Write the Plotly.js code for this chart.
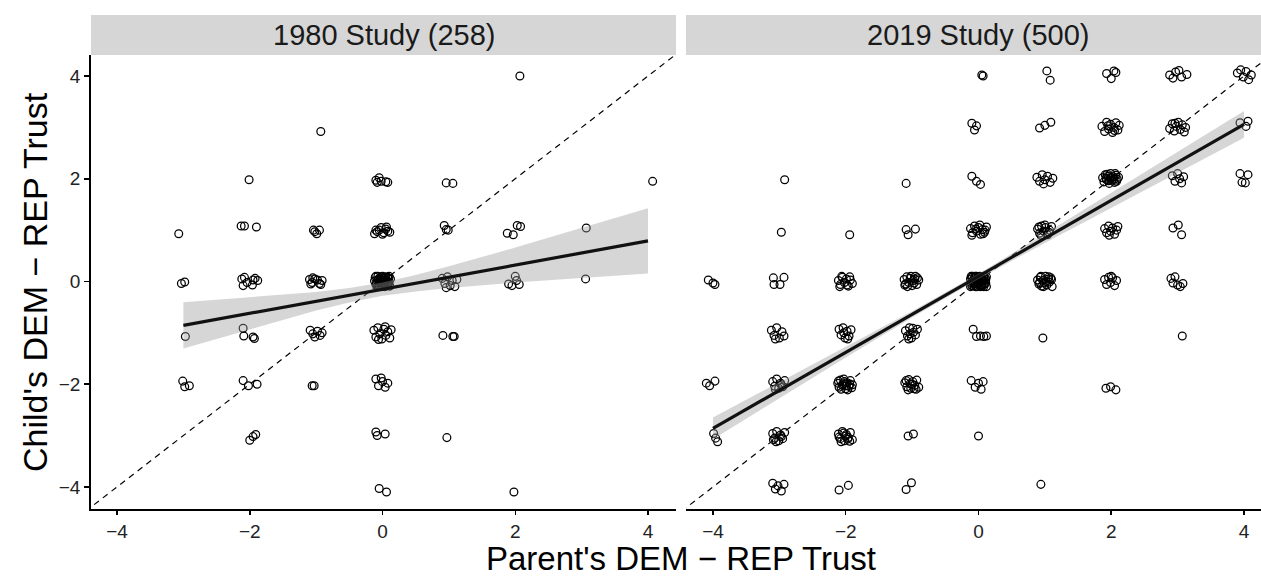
<!DOCTYPE html>
<html>
<head>
<meta charset="utf-8">
<script src="https://cdn.plot.ly/plotly-3.0.1.min.js"></script>
<style>
  html, body { margin: 0; padding: 0; background: #ffffff; }
  #chart { width: 1261px; height: 576px; }
</style>
</head>
<body>
<div id="chart"></div>
<script>
// Panel labels
const panelLabels = ["1980 Study (258)", "2019 Study (500)"];
const xTitle = "Parent's DEM \u2212 REP Trust";
const yTitle = "Child's DEM \u2212 REP Trust";
const tickValues = [-4, -2, 0, 2, 4];

// 1980 study: jittered [parent, child] pairs
const study1980 = [
  [2.07, 4.00], [-0.93, 2.92], [-2.01, 1.98], [4.07, 1.95],
  [-0.10, 1.97], [-0.05, 2.02], [-0.02, 1.95], [0.05, 1.94], [0.08, 1.93], [-0.08, 1.93],
  [0.96, 1.92], [1.06, 1.91],
  [-3.07, 0.93], [-2.13, 1.08], [-2.08, 1.08], [-1.90, 1.06],
  [-1.04, 1.00], [-0.99, 0.93], [-0.95, 1.00], [-1.02, 0.97],
  [-0.12, 0.93], [-0.08, 0.97], [-0.05, 1.00], [-0.02, 1.05], [0.02, 0.95], [0.05, 1.02],
  [0.08, 0.98], [0.11, 0.96], [-0.10, 1.00], [0.00, 0.92], [0.06, 1.06],
  [0.93, 1.09], [0.96, 1.01], [0.99, 1.00],
  [1.88, 0.94], [1.97, 0.91], [2.03, 1.09], [2.08, 1.07], [3.07, 1.04],
  [-3.03, -0.04], [-2.98, -0.01],
  [-2.12, 0.05], [-2.08, 0.08], [-2.04, -0.02], [-1.96, -0.07], [-1.92, 0.06], [-1.88, 0.02],
  [-2.10, -0.08], [-1.95, 0.03],
  [-1.10, 0.04], [-1.06, -0.02], [-1.02, 0.05], [-0.98, 0.03], [-0.95, -0.04], [-0.91, 0.02],
  [-1.05, 0.07], [-0.93, -0.06], [-1.08, -0.05],
  [-0.11, 0.08], [-0.09, -0.03], [-0.07, 0.10], [-0.05, -0.08], [-0.03, 0.04], [-0.01, -0.10],
  [0.01, 0.07], [0.03, -0.05], [0.05, 0.09], [0.07, -0.02], [0.09, 0.06], [0.11, -0.09],
  [-0.10, -0.06], [-0.08, 0.02], [-0.06, -0.10], [-0.04, 0.07], [-0.02, -0.04], [0.00, 0.10],
  [0.02, -0.07], [0.04, 0.03], [0.06, -0.09], [0.08, 0.08], [0.10, -0.01], [0.12, 0.05],
  [-0.12, 0.01], [-0.08, -0.09], [-0.04, 0.00], [0.00, -0.03], [0.04, 0.06], [0.08, -0.06],
  [-0.06, 0.05], [0.02, 0.02], [0.06, 0.01], [-0.02, 0.09], [0.10, 0.10], [-0.10, 0.10],
  [0.03, -0.10], [-0.05, -0.01], [0.09, -0.04], [-0.01, 0.03],
  [0.90, 0.06], [0.94, -0.04], [0.98, 0.09], [1.02, -0.08], [1.05, 0.02], [1.09, -0.10],
  [1.12, 0.04], [0.96, -0.12],
  [1.90, -0.05], [1.95, -0.08], [2.00, 0.10], [2.02, 0.02], [2.06, -0.06],
  [3.06, 0.05],
  [-2.97, -1.07],
  [-2.10, -0.91], [-2.09, -1.06], [-1.95, -1.08], [-1.93, -1.11],
  [-1.09, -0.95], [-1.05, -1.02], [-1.02, -1.08], [-0.98, -0.97], [-0.94, -1.05], [-0.91, -1.00],
  [-0.13, -0.95], [-0.10, -1.08], [-0.07, -0.90], [-0.04, -1.02], [-0.01, -1.12], [0.02, -0.93],
  [0.05, -1.05], [0.08, -0.98], [0.11, -1.10], [0.13, -0.94], [-0.06, -1.13], [0.04, -0.88],
  [0.91, -1.05], [1.06, -1.07], [1.08, -1.07],
  [-3.01, -1.94], [-2.98, -2.05], [-2.91, -2.03],
  [-2.10, -1.93], [-2.02, -2.03], [-1.89, -2.00],
  [-1.06, -2.03], [-1.03, -2.03],
  [-0.10, -1.90], [-0.06, -2.03], [0.00, -1.95], [0.04, -2.06], [0.08, -1.98], [-0.02, -1.88],
  [-2.00, -3.09], [-1.95, -3.02], [-1.91, -2.98],
  [-0.10, -2.93], [-0.08, -3.00], [0.04, -2.97],
  [0.97, -3.04],
  [-0.05, -4.03], [0.06, -4.10],
  [1.98, -4.10]
];

// 2019 study: jittered [parent, child] pairs
const study2019 = [
  [0.05, 4.02], [0.07, 4.00], [1.03, 4.10], [1.08, 3.92],
  [1.93, 4.05], [2.00, 3.95], [2.04, 4.10], [2.07, 4.07],
  [2.88, 4.02], [2.93, 3.96], [2.97, 4.08], [3.02, 4.11], [3.06, 3.98], [3.14, 4.03],
  [3.90, 4.06], [3.95, 4.12], [3.99, 3.98], [4.03, 4.09], [4.07, 3.93], [4.11, 4.02],
  [-0.10, 3.08], [-0.06, 2.95], [-0.03, 3.03],
  [0.92, 2.99], [1.00, 3.04], [1.09, 3.10],
  [1.86, 3.02], [1.90, 2.92], [1.93, 3.10], [1.96, 2.97], [1.99, 3.06], [2.02, 2.90],
  [2.04, 3.00], [2.07, 3.09], [2.10, 2.95], [2.12, 3.04], [1.95, 3.03], [2.05, 2.94],
  [2.88, 2.98], [2.92, 3.07], [2.95, 2.93], [2.98, 3.02], [3.01, 3.10], [3.04, 2.96],
  [3.07, 3.05], [3.10, 2.91], [2.96, 3.08], [3.12, 3.00],
  [3.94, 3.09], [4.03, 3.02], [4.06, 3.12],
  [-2.92, 1.98], [-1.09, 1.91],
  [-0.10, 2.05], [-0.03, 1.95], [0.03, 1.89],
  [0.88, 2.03], [0.92, 1.95], [0.96, 2.08], [1.00, 1.98], [1.04, 2.05], [1.08, 1.93],
  [1.12, 2.01], [0.98, 1.90],
  [1.87, 2.02], [1.89, 1.94], [1.91, 2.08], [1.93, 1.98], [1.95, 2.05], [1.97, 1.91],
  [1.99, 2.10], [2.01, 1.97], [2.03, 2.04], [2.05, 1.93], [2.07, 2.07], [2.09, 1.99],
  [2.11, 2.03], [1.92, 2.01], [1.96, 1.96], [2.00, 2.02], [2.04, 1.99], [2.08, 1.95],
  [1.94, 2.09], [2.06, 2.10],
  [2.92, 2.06], [2.96, 1.95], [3.00, 2.10], [3.03, 2.00], [3.06, 1.92], [3.09, 2.04],
  [3.94, 2.10], [3.97, 1.93], [4.02, 1.92], [4.06, 2.08],
  [-2.97, 0.96], [-1.94, 0.91],
  [-1.09, 1.01], [-1.06, 0.91], [-0.95, 1.02],
  [-0.12, 1.03], [-0.09, 0.95], [-0.06, 1.08], [-0.03, 0.98], [0.00, 1.05], [0.03, 0.92],
  [0.06, 1.01], [0.09, 0.96], [0.12, 1.06], [-0.10, 0.90], [-0.04, 1.02], [0.02, 1.10],
  [0.07, 0.93], [0.10, 1.00],
  [0.89, 1.02], [0.92, 0.94], [0.95, 1.08], [0.98, 0.98], [1.01, 1.05], [1.04, 0.91],
  [1.07, 1.00], [1.10, 1.07], [0.94, 0.90], [1.00, 1.10], [1.06, 0.96], [0.91, 1.06],
  [1.90, 1.03], [1.93, 0.95], [1.96, 1.08], [1.99, 0.98], [2.02, 1.04], [2.05, 0.92],
  [2.08, 1.00], [2.10, 1.07], [1.97, 0.90],
  [2.93, 1.04], [3.01, 1.10], [3.06, 0.91],
  [-4.07, 0.03], [-4.00, -0.03], [-3.97, -0.06],
  [-3.09, 0.07], [-3.08, -0.06], [-2.99, -0.06], [-2.93, 0.08],
  [-2.11, 0.02], [-2.08, -0.06], [-2.05, 0.08], [-2.02, -0.02], [-1.99, 0.05], [-1.96, -0.09],
  [-1.93, 0.03], [-1.90, -0.04], [-2.06, 0.10], [-1.98, -0.07], [-2.09, -0.10], [-1.94, 0.09],
  [-1.12, 0.04], [-1.10, -0.05], [-1.08, 0.09], [-1.05, -0.02], [-1.03, 0.06], [-1.00, -0.08],
  [-0.98, 0.02], [-0.95, 0.10], [-0.93, -0.06], [-0.90, 0.03], [-1.07, -0.10], [-0.97, -0.03],
  [-1.02, 0.10], [-0.92, 0.07], [-1.11, -0.07], [-0.96, 0.05],
  [-0.12, 0.05], [-0.10, -0.08], [-0.09, 0.10], [-0.07, -0.02], [-0.06, 0.07], [-0.04, -0.10],
  [-0.03, 0.03], [-0.01, -0.06], [0.00, 0.09], [0.02, -0.03], [0.03, 0.06], [0.05, -0.09],
  [0.06, 0.01], [0.08, 0.10], [0.09, -0.05], [0.11, 0.04], [0.12, -0.10], [-0.11, -0.02],
  [-0.08, 0.02], [-0.05, 0.10], [-0.02, -0.10], [0.01, 0.00], [0.04, 0.08], [0.07, -0.07],
  [0.10, 0.07], [-0.12, -0.10], [-0.09, 0.00], [-0.06, -0.05], [-0.03, 0.10], [0.00, -0.04],
  [0.03, -0.10], [0.06, 0.05], [0.09, 0.02], [0.12, 0.09], [-0.10, 0.08], [-0.04, 0.04],
  [0.02, 0.10], [0.08, -0.10], [-0.07, -0.09], [0.05, 0.03], [-0.01, 0.06], [0.11, -0.03],
  [-0.11, 0.10], [0.04, -0.06], [-0.05, -0.03],
  [0.89, 0.03], [0.91, -0.05], [0.93, 0.08], [0.95, -0.09], [0.97, 0.02], [0.99, -0.03],
  [1.01, 0.10], [1.03, -0.07], [1.05, 0.05], [1.07, -0.01], [1.09, 0.07], [1.11, -0.10],
  [0.94, 0.10], [0.98, -0.10], [1.02, 0.00], [1.06, 0.09], [0.92, -0.02], [1.10, 0.04],
  [1.90, 0.04], [1.93, -0.06], [1.96, 0.08], [1.99, -0.02], [2.02, 0.07], [2.05, -0.08],
  [2.08, 0.02], [2.00, 0.10],
  [2.90, 0.06], [2.93, -0.03], [2.96, 0.09], [3.00, -0.07], [3.04, -0.10], [3.08, -0.04],
  [-3.12, -0.95], [-3.08, -1.05], [-3.04, -0.90], [-3.00, -1.10], [-2.96, -0.98], [-2.93, -1.06],
  [-3.06, -1.12],
  [-2.10, -0.93], [-2.07, -1.04], [-2.04, -0.90], [-2.01, -1.10], [-1.98, -0.97], [-1.95, -1.06],
  [-1.92, -0.94], [-2.03, -1.00], [-1.97, -1.12],
  [-1.10, -0.96], [-1.07, -1.06], [-1.04, -0.90], [-1.01, -1.10], [-0.98, -0.99], [-0.95, -1.04],
  [-0.92, -0.93], [-1.05, -1.12], [-0.99, -0.91], [-1.03, -1.02],
  [-0.08, -0.93], [-0.03, -1.07], [0.03, -1.06], [0.08, -1.07], [0.12, -1.06],
  [0.97, -1.10], [3.07, -1.06],
  [-4.10, -1.98], [-4.05, -2.03], [-3.97, -1.94],
  [-3.10, -1.95], [-3.07, -2.04], [-3.04, -1.90], [-3.01, -2.08], [-2.98, -1.98], [-2.95, -2.05],
  [-2.92, -1.93], [-3.06, -2.10], [-2.97, -2.01],
  [-2.12, -1.98], [-2.10, -2.06], [-2.08, -1.92], [-2.05, -2.02], [-2.03, -1.90], [-2.00, -2.09],
  [-1.98, -1.97], [-1.95, -2.04], [-1.93, -1.93], [-1.90, -2.01], [-2.07, -2.10], [-2.02, -1.95],
  [-1.97, -2.11], [-1.94, -2.00], [-2.11, -1.94], [-1.99, -2.03], [-2.04, -1.99], [-1.91, -2.07],
  [-1.11, -1.97], [-1.08, -2.05], [-1.05, -1.91], [-1.02, -2.08], [-0.99, -1.95], [-0.96, -2.02],
  [-0.93, -1.92], [-0.90, -2.06], [-1.06, -2.11], [-1.00, -2.00], [-0.94, -2.10], [-1.09, -1.93],
  [-1.03, -1.99], [-0.97, -2.09],
  [-0.11, -1.93], [-0.05, -2.06], [0.00, -1.98], [0.04, -2.10], [0.07, -1.95],
  [1.92, -2.08], [1.99, -2.05], [2.07, -2.11],
  [-3.99, -2.96], [-3.96, -3.05], [-3.93, -3.12],
  [-3.10, -2.96], [-3.07, -3.05], [-3.04, -2.92], [-3.01, -3.10], [-2.98, -2.99], [-2.95, -3.06],
  [-2.92, -2.94], [-3.05, -3.12], [-2.97, -3.02], [-3.09, -3.08],
  [-2.11, -2.97], [-2.08, -3.06], [-2.05, -2.92], [-2.02, -3.10], [-1.99, -2.98], [-1.96, -3.04],
  [-1.93, -2.94], [-1.90, -3.08], [-2.07, -3.12], [-2.00, -3.01], [-1.94, -3.11], [-2.10, -3.03],
  [-2.03, -2.95], [-1.97, -3.07],
  [-1.06, -3.01], [-0.98, -2.97], [0.00, -3.01],
  [-3.10, -3.93], [-3.06, -4.04], [-3.02, -3.98], [-2.97, -4.08], [-2.93, -3.95],
  [-2.10, -4.06], [-1.96, -3.97],
  [-1.09, -4.05], [-1.01, -3.92],
  [0.94, -3.95]
];

// Linear fits with 95% confidence bands
const fit1980X     = [-3, -2, -1, -0.5, 0, 0.5, 1, 2, 3, 4];
const fit1980Y     = [-0.855, -0.62, -0.385, -0.268, -0.15, -0.033, 0.085, 0.32, 0.555, 0.79];
const fit1980Lower = [-1.305, -0.93, -0.565, -0.408, -0.28, -0.193, -0.125, -0.02, 0.065, 0.155];
const fit1980Upper = [-0.405, -0.31, -0.205, -0.128, -0.02, 0.128, 0.295, 0.66, 1.045, 1.425];

const fit2019X     = [-4, -3, -2, -1, 0, 1, 2, 3, 4];
const fit2019Y     = [-2.86, -2.12, -1.38, -0.64, 0.10, 0.84, 1.58, 2.32, 3.06];
const fit2019Lower = [-3.07, -2.28, -1.48, -0.70, 0.05, 0.75, 1.43, 2.12, 2.80];
const fit2019Upper = [-2.65, -1.96, -1.28, -0.58, 0.15, 0.93, 1.73, 2.52, 3.32];

// Reference line: child equals parent
const identityX = [-5, 5];

const FONT = "Liberation Sans, Arial, Helvetica, sans-serif";

function pointsTrace(pairs, xa, ya) {
  return {
    type: "scatter", mode: "markers",
    x: pairs.map(p => p[0]), y: pairs.map(p => p[1]),
    xaxis: xa, yaxis: ya,
    marker: { symbol: "circle-open", size: 7.8, color: "#000000", line: { width: 1.25, color: "#000000" } },
    hoverinfo: "x+y", showlegend: false
  };
}

function bandTrace(fx, lo, hi, xa, ya) {
  return {
    type: "scatter", mode: "lines",
    x: fx.concat(fx.slice().reverse()),
    y: hi.concat(lo.slice().reverse()),
    fill: "toself", fillcolor: "rgba(153,153,153,0.4)",
    line: { width: 0 }, xaxis: xa, yaxis: ya,
    hoverinfo: "skip", showlegend: false
  };
}

function fitTrace(fx, fy, xa, ya) {
  return {
    type: "scatter", mode: "lines", x: fx, y: fy,
    line: { color: "#111111", width: 3.2 },
    xaxis: xa, yaxis: ya, hoverinfo: "skip", showlegend: false
  };
}

function identityTrace(xa, ya) {
  return {
    type: "scatter", mode: "lines", x: identityX, y: identityX,
    line: { color: "#000000", width: 1.2, dash: "6px,5px" },
    xaxis: xa, yaxis: ya, hoverinfo: "skip", showlegend: false
  };
}

const traces = [
  pointsTrace(study1980, "x", "y"),
  identityTrace("x", "y"),
  bandTrace(fit1980X, fit1980Lower, fit1980Upper, "x", "y"),
  fitTrace(fit1980X, fit1980Y, "x", "y"),
  pointsTrace(study2019, "x2", "y2"),
  identityTrace("x2", "y2"),
  bandTrace(fit2019X, fit2019Lower, fit2019Upper, "x2", "y2"),
  fitTrace(fit2019X, fit2019Y, "x2", "y2")
];

const tickFont = { family: FONT, size: 19, color: "#222" };

const xAxisBase = {
  tickvals: tickValues, ticks: "outside", ticklen: 4, tickwidth: 1.5, tickcolor: "#000",
  showline: true, linecolor: "#000", linewidth: 1.8, showgrid: false, zeroline: false,
  tickfont: tickFont, fixedrange: true
};

const stripTop = 1.0881;
const leftDomain = [0, 0.5];
const rightDomain = [0.5085, 1];

const layout = {
  width: 1261, height: 576,
  margin: { l: 91, r: 0, t: 55, b: 67 },
  paper_bgcolor: "#ffffff", plot_bgcolor: "#ffffff",
  font: { family: FONT, color: "#000" },
  showlegend: false,
  xaxis: Object.assign({}, xAxisBase, { domain: leftDomain, range: [-4.392, 4.422], anchor: "y" }),
  xaxis2: Object.assign({}, xAxisBase, { domain: rightDomain, range: [-4.407, 4.256], anchor: "y2" }),
  yaxis: {
    domain: [0, 1], range: [-4.43, 4.41], anchor: "x",
    tickvals: tickValues, ticks: "outside", ticklen: 5, tickwidth: 1.5, tickcolor: "#000",
    showline: true, linecolor: "#000", linewidth: 1.8, showgrid: false, zeroline: false,
    tickfont: tickFont, fixedrange: true
  },
  yaxis2: {
    domain: [0, 1], range: [-4.43, 4.41], anchor: "x2",
    showticklabels: false, ticks: "", showline: false, showgrid: false, zeroline: false, fixedrange: true
  },
  shapes: [
    { type: "rect", xref: "paper", yref: "paper", x0: leftDomain[0], x1: leftDomain[1], y0: 1, y1: stripTop,
      fillcolor: "#d6d6d7", line: { width: 0 }, layer: "below" },
    { type: "rect", xref: "paper", yref: "paper", x0: rightDomain[0], x1: rightDomain[1] + 0.01, y0: 1, y1: stripTop,
      fillcolor: "#d6d6d7", line: { width: 0 }, layer: "below" }
  ],
  annotations: [
    { xref: "paper", yref: "paper", x: (leftDomain[0] + leftDomain[1]) / 2, y: (1 + stripTop) / 2,
      text: panelLabels[0], showarrow: false, xanchor: "center", yanchor: "middle",
      font: { family: FONT, size: 29, color: "#1a1a1a" } },
    { xref: "paper", yref: "paper", x: (rightDomain[0] + 1.0085) / 2, y: (1 + stripTop) / 2,
      text: panelLabels[1], showarrow: false, xanchor: "center", yanchor: "middle",
      font: { family: FONT, size: 29, color: "#1a1a1a" } },
    { xref: "paper", yref: "paper", x: 0.504, y: -0.1101,
      text: xTitle, showarrow: false, xanchor: "center", yanchor: "middle",
      font: { family: FONT, size: 33, color: "#000" } },
    { xref: "paper", yref: "paper", x: -0.0479, y: 0.5,
      text: yTitle, showarrow: false, textangle: -90, xanchor: "center", yanchor: "middle",
      font: { family: FONT, size: 34, color: "#000" } }
  ]
};

Plotly.newPlot("chart", traces, layout, { displayModeBar: false, staticPlot: true });
</script>
</body>
</html>
